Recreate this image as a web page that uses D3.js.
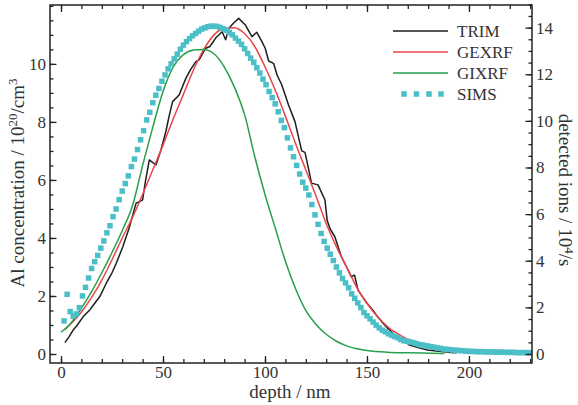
<!DOCTYPE html>
<html><head><meta charset="utf-8">
<script src="https://cdn.jsdelivr.net/npm/d3@7/dist/d3.min.js"></script>
<style>body{margin:0;background:#fff}svg{display:block}</style>
</head><body><svg id="c" width="578" height="405"></svg>
<script>
const FONT="'Liberation Serif', Tinos, 'Times New Roman', Times, serif";
// TRIM simulation (Al concentration, 1e20/cm^3)
const trimDepth=[1.9,4,6,8,10.9,14.1,16,19,22.2,25,27.1,30.3,33.6,36.8,38.5,40,41.5,43.3,45,46.6,49,51.4,53,54.7,57.9,61.2,63.5,66.1,67.7,70.9,73,75.8,79,80.7,82.3,84.5,87.1,90.4,93.6,96,98.5,100.1,101.8,104.2,106,108.2,111.5,114.7,118,119.6,121,122.8,126,129.4,130.5,132,134.2,137.4,140,142.3,143.9,145.6,148,150,153,155,158,160,163,165,168,170.7,175,179.7,184,187.8,191,194];
const trimConc=[0.39,0.6,0.83,1.0,1.29,1.52,1.7,1.98,2.44,2.8,3.13,3.7,4.39,5.2,5.25,5.31,6.0,6.69,6.6,6.52,7.03,7.67,8.2,8.7,8.93,9.5,9.8,10.08,10.14,10.54,10.6,10.89,11.11,10.83,11.23,11.4,11.57,11.34,10.94,11.09,10.77,10.54,10.1,10.02,9.6,9.28,8.59,8.01,7.0,6.95,6.5,5.89,5.83,5.31,4.6,4.3,4.05,3.36,3.0,2.67,2.72,2.2,1.95,1.75,1.5,1.3,1.05,0.9,0.7,0.58,0.45,0.31,0.22,0.14,0.1,0.08,0.05,0.04];
// GEXRF
const gexDepth=[2,5,10,15,20,25,30,35,40,45,50,55,60,65,70,75,80,85,90,95,100,105,110,115,120,125,130,135,140,145,150,155,160,165,170,180,190,200,215,230];
const gexConc=[0.85,1.05,1.45,1.95,2.55,3.25,4.0,4.7,5.5,6.35,7.2,8.1,8.95,9.8,10.5,11.0,11.22,11.25,11.05,10.6,9.9,9.1,8.2,7.25,6.35,5.45,4.5,3.7,3.0,2.3,1.75,1.3,0.95,0.7,0.5,0.27,0.15,0.09,0.05,0.03];
// GIXRF
const gixDepth=[0,5,10,15,20,25,30,35,40,45,50,55,60,65,70,75,80,85,90,95,100,105,110,115,120,125,130,135,140,145,150,160,170,180,188];
const gixConc=[0.75,1.08,1.58,2.15,2.8,3.5,4.25,5.1,6.5,7.82,9.05,9.9,10.32,10.48,10.5,10.35,9.9,9.2,8.25,6.8,5.5,4.35,3.2,2.25,1.5,1.02,0.68,0.44,0.28,0.18,0.12,0.06,0.04,0.03,0.02];
// SIMS (detected ions, 1e4/s)
const simsDepth=[1.5,3,4.5,6,7.5,9,10.5,12,13.5,15,16.5,18,19.5,21,22.5,24,25.5,27,28.5,30,31.5,33,34.5,36,37.5,39,40.5,42,43.5,45,46.5,48,49.5,51,52.5,54,55.5,57,58.5,60,61.5,63,64.5,66,67.5,69,70.5,72,73.5,75,76.5,78,79.5,81,82.5,84,85.5,87,88.5,90,91.5,93,94.5,96,97.5,99,100.5,102,103.5,105,106.5,108,109.5,111,112.5,114,115.5,117,118.5,120,121.5,123,124.5,126,127.5,129,130.5,132,133.5,135,136.5,138,139.5,141,142.5,144,145.5,147,148.5,150,151.5,153,154.5,156,157.5,159,160.5,162,163.5,165,166.5,168,169.5,171,172.5,174,175.5,177,178.5,180,181.5,183,184.5,186,187.5,189,190.5,192,193.5,195,196.5,198,199.5,201,202.5,204,205.5,207,208.5,210,211.5,213,214.5,216,217.5,219,220.5,222,223.5,225,226.5,228,229.5];
const simsRate=[1.42,2.56,1.82,1.62,1.72,1.99,2.49,2.86,3.26,3.67,3.96,4.23,4.54,4.85,5.20,5.50,5.89,6.22,6.62,6.99,7.31,7.64,8.04,8.36,8.77,9.19,9.58,10.04,10.37,10.78,11.10,11.39,11.70,11.97,12.23,12.45,12.66,12.86,13.07,13.25,13.40,13.53,13.65,13.75,13.85,13.94,13.99,14.04,14.06,14.06,14.05,14.01,13.95,13.89,13.79,13.69,13.55,13.42,13.28,13.09,12.89,12.69,12.51,12.28,12.05,11.79,11.55,11.26,11.00,10.73,10.39,10.02,9.71,9.27,8.84,8.46,8.09,7.72,7.37,7.12,6.82,6.41,5.97,5.56,5.17,4.83,4.54,4.28,4.01,3.73,3.48,3.24,3.05,2.84,2.58,2.39,2.19,1.99,1.78,1.64,1.51,1.37,1.24,1.12,1.02,0.95,0.87,0.81,0.75,0.70,0.62,0.57,0.55,0.52,0.49,0.45,0.41,0.39,0.36,0.34,0.31,0.29,0.26,0.24,0.21,0.20,0.19,0.17,0.16,0.15,0.14,0.13,0.12,0.11,0.11,0.10,0.10,0.10,0.09,0.09,0.09,0.08,0.08,0.08,0.07,0.07,0.07,0.07,0.06,0.06,0.06,0.06,0.06];

const seriesNames=["TRIM","GEXRF","GIXRF","SIMS"];
const colors={TRIM:"#1e1e1e",GEXRF:"#e8464a",GIXRF:"#27a04a",SIMS:"#4bbfc7"};
const xTicks=[0,50,100,150,200], yLeftTicks=[0,2,4,6,8,10], yRightTicks=[0,2,4,6,8,10,12,14];

const svg=d3.select("#c");
const L=50,R=532,T=5,B=363;
const x=d3.scaleLinear().domain([-5.4,230.9]).range([L,R]);
const yL=d3.scaleLinear().domain([-0.31,12.03]).range([B,T]);
const yR=d3.scaleLinear().domain([-0.386,14.97]).range([B,T]);

svg.append("clipPath").attr("id","clip").append("rect").attr("x",L).attr("y",T).attr("width",R-L).attr("height",B-T);
const g=svg.append("g").attr("clip-path","url(#clip)");
const zipL=(a,b)=>a.map((d,i)=>[d,b[i]]);
const lineL=d3.line().x(d=>x(d[0])).y(d=>yL(d[1]));
const lineS=d3.line().x(d=>x(d[0])).y(d=>yL(d[1])).curve(d3.curveMonotoneX);
g.append("path").attr("d",lineL(zipL(trimDepth,trimConc))).attr("fill","none").attr("stroke",colors.TRIM).attr("stroke-width",1.5).attr("stroke-linejoin","round");
g.append("path").attr("d",lineS(zipL(gexDepth,gexConc))).attr("fill","none").attr("stroke",colors.GEXRF).attr("stroke-width",1.5);
g.append("path").attr("d",lineS(zipL(gixDepth,gixConc))).attr("fill","none").attr("stroke",colors.GIXRF).attr("stroke-width",1.5);
const sq=5.5;
g.selectAll("rect.s").data(zipL(simsDepth,simsRate)).enter().append("rect")
 .attr("x",d=>x(d[0])-sq/2).attr("y",d=>yR(d[1])-sq/2).attr("width",sq).attr("height",sq).attr("fill",colors.SIMS);

function styleAxis(sel){sel.attr("font-family",FONT).attr("font-size",17);
 sel.selectAll("path.domain").remove();sel.selectAll("line").attr("stroke","#222").attr("stroke-width",1.3);
 sel.selectAll("text").attr("fill","#333");}
const minorX=d3.range(0,231,10), minorL=d3.range(0,12.01,0.5), minorR=d3.range(0,15.01,0.5);
svg.append("g").attr("transform",`translate(0,${B})`).call(d3.axisBottom(x).tickValues(minorX).tickSize(-4).tickFormat("")).call(styleAxis);
svg.append("g").attr("transform",`translate(0,${B})`).call(d3.axisBottom(x).tickValues(xTicks).tickSize(-7).tickSizeOuter(0).tickPadding(3)).call(styleAxis);
svg.append("g").attr("transform",`translate(0,${T})`).call(d3.axisTop(x).tickValues(minorX).tickSize(-4).tickFormat("")).call(styleAxis);
svg.append("g").attr("transform",`translate(0,${T})`).call(d3.axisTop(x).tickValues(xTicks).tickSize(-7).tickFormat("")).call(styleAxis);
svg.append("g").attr("transform",`translate(${L},0)`).call(d3.axisLeft(yL).tickValues(minorL).tickSize(-3.5).tickFormat("")).call(styleAxis);
svg.append("g").attr("transform",`translate(${L},0)`).call(d3.axisLeft(yL).tickValues(yLeftTicks).tickSize(-6.5).tickPadding(4)).call(styleAxis);
svg.append("g").attr("transform",`translate(${R},0)`).call(d3.axisRight(yR).tickValues(minorR).tickSize(-3.5).tickFormat("")).call(styleAxis);
svg.append("g").attr("transform",`translate(${R},0)`).call(d3.axisRight(yR).tickValues(yRightTicks).tickSize(-6.5).tickPadding(4)).call(styleAxis);
svg.append("rect").attr("x",L).attr("y",T).attr("width",R-L).attr("height",B-T).attr("fill","none").attr("stroke","#222").attr("stroke-width",1.5);

const txt=(sel)=>sel.attr("font-family",FONT).attr("fill","#333");
svg.append("text").call(txt).attr("x",290).attr("y",398).attr("text-anchor","middle").attr("font-size",19).text("depth / nm");
const lt=svg.append("text").call(txt).attr("transform","translate(24,183) rotate(-90)").attr("text-anchor","middle").attr("font-size",19);
lt.append("tspan").text("Al concentration / 10");
lt.append("tspan").attr("dy",-7).attr("font-size",13).text("20");
lt.append("tspan").attr("dy",7).text("/cm");
lt.append("tspan").attr("dy",-7).attr("font-size",13).text("3");
const rt=svg.append("text").call(txt).attr("transform","translate(559,190) rotate(90)").attr("text-anchor","middle").attr("font-size",19);
rt.append("tspan").text("detected ions / 10");
rt.append("tspan").attr("dy",-6).attr("font-size",13).text("4");
rt.append("tspan").attr("dy",6).text("/s");

const legY=[31,52,73,94];
seriesNames.forEach((n,i)=>{
  if(n==="SIMS"){
    [404,416.5,429,441].forEach(px=>svg.append("rect").attr("x",px-2.75).attr("y",legY[i]-2.75).attr("width",5.5).attr("height",5.5).attr("fill",colors.SIMS));
  } else {
    svg.append("line").attr("x1",393).attr("x2",448).attr("y1",legY[i]).attr("y2",legY[i]).attr("stroke",colors[n]).attr("stroke-width",1.5);
  }
  svg.append("text").call(txt).attr("x",457).attr("y",legY[i]+6).attr("font-size",17).text(n);
});
</script></body></html>
